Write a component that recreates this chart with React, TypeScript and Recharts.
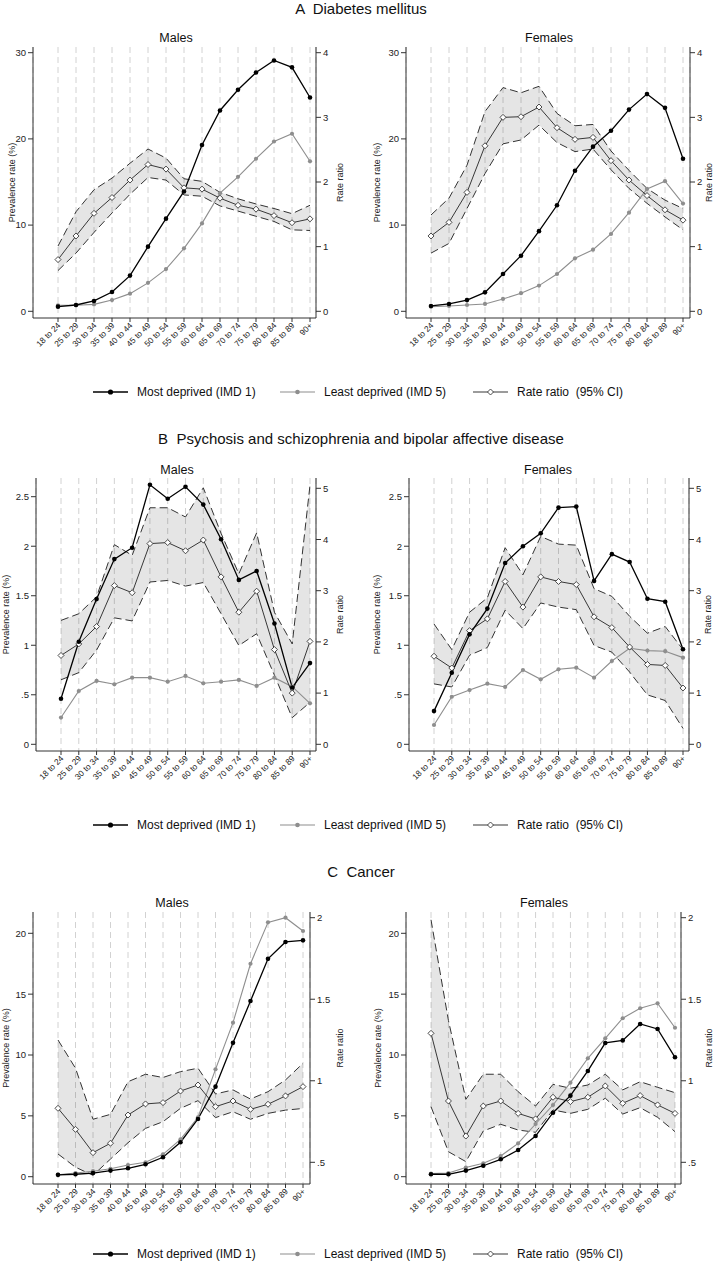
import React from "react";
import { ComposedChart, Line, Area, XAxis, YAxis, CartesianGrid } from "recharts";

const FONT = '"Liberation Sans", Arial, sans-serif';

const ageBands = [
  "18 to 24", "25 to 29", "30 to 34", "35 to 39", "40 to 44", "45 to 49", "50 to 54",
  "55 to 59", "60 to 64", "65 to 69", "70 to 74", "75 to 79", "80 to 84", "85 to 89", "90+",
];

// A  Diabetes mellitus
const dmMaleImd1 = [0.54, 0.73, 1.2, 2.24, 4.14, 7.5, 10.75, 13.9, 19.3, 23.3, 25.7, 27.7, 29.1, 28.3, 24.8];
const dmMaleImd5 = [0.7, 0.7, 0.8, 1.3, 2.05, 3.3, 4.9, 7.3, 10.2, 13.7, 15.6, 17.7, 19.7, 20.6, 17.4];
const dmMaleRR = [0.8, 1.165, 1.515, 1.76, 2.03, 2.27, 2.2, 1.91, 1.89, 1.75, 1.64, 1.58, 1.48, 1.37, 1.43];
const dmMaleLo = [0.63, 0.9, 1.22, 1.52, 1.81, 2.07, 2.03, 1.8, 1.78, 1.63, 1.55, 1.47, 1.39, 1.26, 1.25];
const dmMaleHi = [1.01, 1.54, 1.88, 2.06, 2.29, 2.51, 2.37, 2.05, 2.01, 1.84, 1.74, 1.66, 1.59, 1.51, 1.64];

const dmFemaleImd1 = [0.62, 0.85, 1.3, 2.2, 4.33, 6.45, 9.3, 12.3, 16.3, 19.1, 20.95, 23.4, 25.2, 23.6, 17.7];
const dmFemaleImd5 = [0.54, 0.62, 0.73, 0.85, 1.43, 2.1, 2.98, 4.33, 6.15, 7.15, 8.97, 11.44, 14.2, 15.1, 12.5];
const dmFemaleRR = [1.165, 1.376, 1.84, 2.56, 3.0, 3.01, 3.16, 2.84, 2.66, 2.69, 2.33, 2.03, 1.79, 1.57, 1.41];
const dmFemaleLo = [0.9, 1.05, 1.59, 2.13, 2.59, 2.65, 2.88, 2.61, 2.47, 2.51, 2.19, 1.9, 1.67, 1.46, 1.26];
const dmFemaleHi = [1.49, 1.75, 2.26, 3.09, 3.46, 3.38, 3.48, 3.06, 2.87, 2.89, 2.48, 2.18, 1.9, 1.72, 1.59];

// B  Psychosis and schizophrenia and bipolar affective disease
const smiMaleImd1 = [0.46, 1.035, 1.466, 1.87, 1.985, 2.62, 2.48, 2.6, 2.42, 2.07, 1.66, 1.75, 1.22, 0.573, 0.82];
const smiMaleImd5 = [0.27, 0.538, 0.64, 0.606, 0.673, 0.673, 0.632, 0.69, 0.616, 0.632, 0.65, 0.589, 0.673, 0.582, 0.414];
const smiMaleRR = [1.735, 1.96, 2.3, 3.1, 2.96, 3.92, 3.94, 3.78, 3.99, 3.27, 2.58, 2.99, 1.85, 1.0, 2.01];
const smiMaleLo = [1.26, 1.4, 1.84, 2.47, 2.41, 3.17, 3.2, 3.09, 3.16, 2.55, 1.93, 2.16, 1.35, 0.52, 0.82];
const smiMaleHi = [2.42, 2.55, 2.88, 3.9, 3.69, 4.62, 4.62, 4.44, 5.01, 4.12, 3.33, 4.13, 2.58, 1.96, 5.06];

const smiFemaleImd1 = [0.335, 0.722, 1.11, 1.37, 1.83, 2.0, 2.13, 2.39, 2.4, 1.65, 1.92, 1.84, 1.47, 1.44, 0.96];
const smiFemaleImd5 = [0.195, 0.48, 0.548, 0.612, 0.579, 0.75, 0.656, 0.757, 0.774, 0.673, 0.841, 0.97, 0.946, 0.94, 0.875];
const smiFemaleRR = [1.72, 1.49, 2.22, 2.45, 3.18, 2.68, 3.27, 3.18, 3.12, 2.49, 2.28, 1.9, 1.56, 1.54, 1.1];
const smiFemaleLo = [1.18, 1.12, 1.74, 1.89, 2.62, 2.26, 2.76, 2.68, 2.63, 1.93, 1.8, 1.41, 0.965, 0.855, 0.31];
const smiFemaleHi = [2.35, 1.85, 2.58, 2.86, 3.84, 3.31, 4.06, 3.91, 3.89, 3.04, 2.89, 2.5, 2.17, 2.3, 1.85];

// C  Cancer
const caMaleImd1 = [0.15, 0.2, 0.3, 0.5, 0.69, 1.02, 1.6, 2.83, 4.74, 7.4, 11.0, 14.44, 17.9, 19.29, 19.42];
const caMaleImd5 = [0.15, 0.3, 0.45, 0.65, 0.96, 1.18, 1.84, 3.07, 4.88, 8.82, 12.66, 17.5, 20.9, 21.28, 20.19];
const caMaleRR = [0.831, 0.702, 0.559, 0.617, 0.79, 0.858, 0.866, 0.937, 0.974, 0.841, 0.876, 0.825, 0.856, 0.907, 0.964];
const caMaleLo = [0.551, 0.47, 0.42, 0.52, 0.62, 0.708, 0.749, 0.831, 0.878, 0.774, 0.81, 0.764, 0.8, 0.82, 0.83];
const caMaleHi = [1.25, 1.077, 0.764, 0.794, 0.994, 1.04, 1.02, 1.056, 1.077, 0.919, 0.944, 0.888, 0.933, 1.005, 1.107];

const caFemaleImd1 = [0.2, 0.2, 0.5, 0.9, 1.43, 2.19, 3.34, 5.26, 6.66, 8.69, 10.99, 11.2, 12.55, 12.14, 9.81];
const caFemaleImd5 = [0.25, 0.3, 0.75, 1.1, 1.7, 2.74, 4.33, 5.89, 7.73, 9.73, 11.37, 13.02, 13.84, 14.25, 12.24];
const caFemaleRR = [1.291, 0.876, 0.661, 0.845, 0.876, 0.8, 0.766, 0.899, 0.872, 0.899, 0.968, 0.862, 0.909, 0.852, 0.8];
const caFemaleLo = [0.841, 0.565, 0.504, 0.692, 0.733, 0.698, 0.684, 0.821, 0.8, 0.825, 0.893, 0.796, 0.835, 0.776, 0.688];
const caFemaleHi = [1.987, 1.37, 0.886, 1.04, 1.04, 0.933, 0.845, 0.978, 0.954, 0.974, 1.04, 0.944, 0.994, 0.96, 0.927];

const ticksA = { left: [0, 10, 20, 30], right: [0, 1, 2, 3, 4] };
const ticksB = { left: [0, 0.5, 1, 1.5, 2, 2.5], right: [0, 1, 2, 3, 4, 5] };
const ticksC = { left: [0, 5, 10, 15, 20], right: [0.5, 1, 1.5, 2] };

const PAD = 40;
const AXIS_H = 48;
const GRAY = "#8e8e8e";
const RR_COL = "#383838";

type Cal = [number, number, number, number]; // value, pixel, value, pixel

interface Frame {
  title: string;
  axisL: number;
  axisR: number;
  top: number;
  bottom: number;
  firstCat: number;
  lastCat: number;
  leftCal: Cal;
  rightCal: Cal;
  leftTicks: number[];
  rightTicks: number[];
  titleX: number;
  titleY: number;
  leftLabelX: number;
  rightLabelX: number;
}

interface Series {
  imd1: number[];
  imd5: number[];
  rr: number[];
  lo: number[];
  hi: number[];
}

const fmt = (v: number) => (v > 0 && v < 1 ? String(v).replace(/^0/, "") : String(v));

function calDomain(c: Cal, top: number, bottom: number): [number, number] {
  const k = (c[3] - c[1]) / (c[2] - c[0]);
  const at = (px: number) => c[0] + (px - c[1]) / k;
  return [at(bottom), at(top)];
}

const AgeTick = (props: any) => {
  const { x, y, payload } = props;
  const ax = x + 3;
  const ay = y + 2;
  return (
    <text
      x={ax}
      y={ay}
      transform={`rotate(-45 ${ax} ${ay})`}
      textAnchor="end"
      fontSize={8.3}
      fontFamily={FONT}
      fill="#222"
    >
      {ageBands[payload.value]}
    </text>
  );
};

const diamond = (cx: number, cy: number, s: number) =>
  `M${cx},${cy - s}L${cx + s},${cy}L${cx},${cy + s}L${cx - s},${cy}Z`;

const DiamondDot = (props: any) => {
  const { cx, cy, index } = props;
  if (cx == null || cy == null) return <g key={`dd-${index}`} />;
  return <path key={`dd-${index}`} d={diamond(cx, cy, 3)} fill="#fff" stroke={RR_COL} strokeWidth={0.9} />;
};

function Subplot({ f, s }: { f: Frame; s: Series }) {
  const rows = ageBands.map((age, i) => ({
    i,
    age,
    imd1: s.imd1[i],
    imd5: s.imd5[i],
    rr: s.rr[i],
    lo: s.lo[i],
    hi: s.hi[i],
    band: [s.lo[i], s.hi[i]],
  }));
  const step = (f.lastCat - f.firstCat) / (ageBands.length - 1);
  const xDomain = [-(f.firstCat - f.axisL) / step, ageBands.length - 1 + (f.axisR - f.lastCat) / step];
  const leftDomain = calDomain(f.leftCal, f.top, f.bottom);
  const rightDomain = calDomain(f.rightCal, f.top, f.bottom);
  const tickStyle = { fontSize: 9.5, fill: "#222", fontFamily: FONT };

  return (
    <div style={{ position: "absolute", left: f.axisL - PAD, top: f.top - 2 }}>
      <ComposedChart
        width={f.axisR - f.axisL + 2 * PAD}
        height={f.bottom - f.top + 2 + AXIS_H}
        data={rows}
        margin={{ top: 2, right: 0, bottom: 0, left: 0 }}
      >
        <CartesianGrid
          yAxisId="left"
          horizontal={false}
          stroke="#d2d2d2"
          strokeDasharray="6 4"
        />
        <XAxis
          type="number"
          dataKey="i"
          domain={xDomain}
          ticks={ageBands.map((_, i) => i)}
          interval={0}
          allowDataOverflow
          height={AXIS_H}
          tickSize={4}
          tick={<AgeTick />}
          axisLine={{ stroke: "#333" }}
          tickLine={{ stroke: "#333" }}
        />
        <YAxis
          yAxisId="left"
          type="number"
          domain={leftDomain}
          ticks={f.leftTicks}
          interval={0}
          allowDataOverflow
          width={PAD}
          tickSize={5}
          tickFormatter={fmt}
          tick={tickStyle}
          axisLine={{ stroke: "#333" }}
          tickLine={{ stroke: "#333" }}
        />
        <YAxis
          yAxisId="right"
          orientation="right"
          type="number"
          domain={rightDomain}
          ticks={f.rightTicks}
          interval={0}
          allowDataOverflow
          width={PAD}
          tickSize={5}
          tickFormatter={fmt}
          tick={{ ...tickStyle, textAnchor: "start" }}
          axisLine={{ stroke: "#333" }}
          tickLine={{ stroke: "#333" }}
        />
        <Area
          yAxisId="right"
          type="linear"
          dataKey="band"
          stroke="none"
          fill="#000"
          fillOpacity={0.1}
          isAnimationActive={false}
        />
        <Line yAxisId="right" type="linear" dataKey="hi" stroke="#333" strokeWidth={1} strokeDasharray="8 4" dot={false} activeDot={false} isAnimationActive={false} />
        <Line yAxisId="right" type="linear" dataKey="lo" stroke="#333" strokeWidth={1} strokeDasharray="8 4" dot={false} activeDot={false} isAnimationActive={false} />
        <Line
          yAxisId="left"
          type="linear"
          dataKey="imd5"
          stroke={GRAY}
          strokeWidth={1.1}
          dot={{ r: 2.1, fill: GRAY, stroke: GRAY, strokeWidth: 0 }}
          activeDot={false}
          isAnimationActive={false}
        />
        <Line
          yAxisId="right"
          type="linear"
          dataKey="rr"
          stroke={RR_COL}
          strokeWidth={1}
          dot={DiamondDot}
          activeDot={false}
          isAnimationActive={false}
        />
        <Line
          yAxisId="left"
          type="linear"
          dataKey="imd1"
          stroke="#000"
          strokeWidth={1.3}
          dot={{ r: 2.3, fill: "#000", stroke: "#000", strokeWidth: 0 }}
          activeDot={false}
          isAnimationActive={false}
        />
      </ComposedChart>
    </div>
  );
}

const box = (axisL: number, axisR: number, top: number, bottom: number, firstCat: number, lastCat: number) => ({
  axisL, axisR, top, bottom, firstCat, lastCat,
});

const panels: { title: string; titleY: number; legendY: number; frames: [Frame, Series][] }[] = [
  {
    title: "A  Diabetes mellitus",
    titleY: 8,
    legendY: 392,
    frames: [
      [
        { ...box(33, 316, 47, 318, 58, 310), title: "Males", leftCal: [30, 52.7, 0, 311.3], rightCal: [4, 52.7, 0, 311.3], leftTicks: ticksA.left, rightTicks: ticksA.right, titleX: 176, titleY: 38, leftLabelX: 12, rightLabelX: 340 },
        { imd1: dmMaleImd1, imd5: dmMaleImd5, rr: dmMaleRR, lo: dmMaleLo, hi: dmMaleHi },
      ],
      [
        { ...box(406, 690, 47, 318, 431, 683), title: "Females", leftCal: [30, 52.7, 0, 311.3], rightCal: [4, 52.7, 0, 311.3], leftTicks: ticksA.left, rightTicks: ticksA.right, titleX: 549, titleY: 38, leftLabelX: 377, rightLabelX: 709 },
        { imd1: dmFemaleImd1, imd5: dmFemaleImd5, rr: dmFemaleRR, lo: dmFemaleLo, hi: dmFemaleHi },
      ],
    ],
  },
  {
    title: "B  Psychosis and schizophrenia and bipolar affective disease",
    titleY: 438.5,
    legendY: 825,
    frames: [
      [
        { ...box(36, 316, 478, 751, 61, 310), title: "Males", leftCal: [2.5, 496.7, 0, 744.3], rightCal: [5, 488.3, 0, 744.3], leftTicks: ticksB.left, rightTicks: ticksB.right, titleX: 177, titleY: 470, leftLabelX: 6, rightLabelX: 340 },
        { imd1: smiMaleImd1, imd5: smiMaleImd5, rr: smiMaleRR, lo: smiMaleLo, hi: smiMaleHi },
      ],
      [
        { ...box(409, 689, 478, 751, 434, 683), title: "Females", leftCal: [2.5, 496.7, 0, 744.3], rightCal: [5, 488.3, 0, 744.3], leftTicks: ticksB.left, rightTicks: ticksB.right, titleX: 548, titleY: 470, leftLabelX: 377, rightLabelX: 708 },
        { imd1: smiFemaleImd1, imd5: smiFemaleImd5, rr: smiFemaleRR, lo: smiFemaleLo, hi: smiFemaleHi },
      ],
    ],
  },
  {
    title: "C  Cancer",
    titleY: 871,
    legendY: 1254,
    frames: [
      [
        { ...box(33, 310, 912, 1184, 58, 303), title: "Males", leftCal: [20, 933.3, 0, 1176.7], rightCal: [2, 917.7, 0.5, 1162.3], leftTicks: ticksC.left, rightTicks: ticksC.right, titleX: 172, titleY: 903, leftLabelX: 6, rightLabelX: 340 },
        { imd1: caMaleImd1, imd5: caMaleImd5, rr: caMaleRR, lo: caMaleLo, hi: caMaleHi },
      ],
      [
        { ...box(406, 681, 912, 1184, 431, 675), title: "Females", leftCal: [20, 933.3, 0, 1176.7], rightCal: [2, 917.7, 0.5, 1162.3], leftTicks: ticksC.left, rightTicks: ticksC.right, titleX: 544, titleY: 903, leftLabelX: 378, rightLabelX: 709 },
        { imd1: caFemaleImd1, imd5: caFemaleImd5, rr: caFemaleRR, lo: caFemaleLo, hi: caFemaleHi },
      ],
    ],
  },
];

const legendItems = [
  { label: "Most deprived (IMD 1)", x0: 93, kind: "imd1" },
  { label: "Least deprived (IMD 5)", x0: 280, kind: "imd5" },
  { label: "Rate ratio  (95% CI)", x0: 473, kind: "rr" },
];

function LegendRow({ y }: { y: number }) {
  return (
    <g>
      {legendItems.map((it) => {
        const cx = it.x0 + 17.5;
        const col = it.kind === "imd1" ? "#000" : it.kind === "imd5" ? GRAY : RR_COL;
        return (
          <g key={it.kind}>
            <line x1={it.x0} x2={it.x0 + 35} y1={y} y2={y} stroke={col} strokeWidth={it.kind === "imd1" ? 1.4 : 1.1} />
            {it.kind === "rr" ? (
              <path d={diamond(cx, y, 3)} fill="#fff" stroke={RR_COL} strokeWidth={0.9} />
            ) : (
              <circle cx={cx} cy={y} r={it.kind === "imd1" ? 2.6 : 2.3} fill={col} />
            )}
            <text x={it.x0 + 44} y={y} dominantBaseline="central" fontSize={12} fontFamily={FONT} fill="#111" style={{ whiteSpace: "pre" }}>
              {it.label}
            </text>
          </g>
        );
      })}
    </g>
  );
}

export default function App() {
  return (
    <div style={{ position: "absolute", left: 0, top: 0, width: 716, height: 1264, background: "#fff", overflow: "hidden" }}>
      {panels.map((p) =>
        p.frames.map(([f, s]) => <Subplot key={`${p.title}-${f.title}`} f={f} s={s} />)
      )}
      <svg width={716} height={1264} style={{ position: "absolute", left: 0, top: 0, pointerEvents: "none" }}>
        {panels.map((p) => (
          <g key={p.title}>
            <text x={361} y={p.titleY} textAnchor="middle" dominantBaseline="central" fontSize={15} fontFamily={FONT} fill="#111" style={{ whiteSpace: "pre" }}>
              {p.title}
            </text>
            {p.frames.map(([f]) => {
              const midY = (f.top + f.bottom) / 2;
              return (
                <g key={f.title}>
                  <text x={f.titleX} y={f.titleY} textAnchor="middle" dominantBaseline="central" fontSize={12.5} fontFamily={FONT} fill="#111">
                    {f.title}
                  </text>
                  <text x={f.leftLabelX} y={midY} transform={`rotate(-90 ${f.leftLabelX} ${midY})`} textAnchor="middle" dominantBaseline="central" fontSize={9} fontFamily={FONT} fill="#222">
                    Prevalence rate (%)
                  </text>
                  <text x={f.rightLabelX} y={midY} transform={`rotate(-90 ${f.rightLabelX} ${midY})`} textAnchor="middle" dominantBaseline="central" fontSize={9} fontFamily={FONT} fill="#222">
                    Rate ratio
                  </text>
                </g>
              );
            })}
            <LegendRow y={p.legendY} />
          </g>
        ))}
      </svg>
    </div>
  );
}
